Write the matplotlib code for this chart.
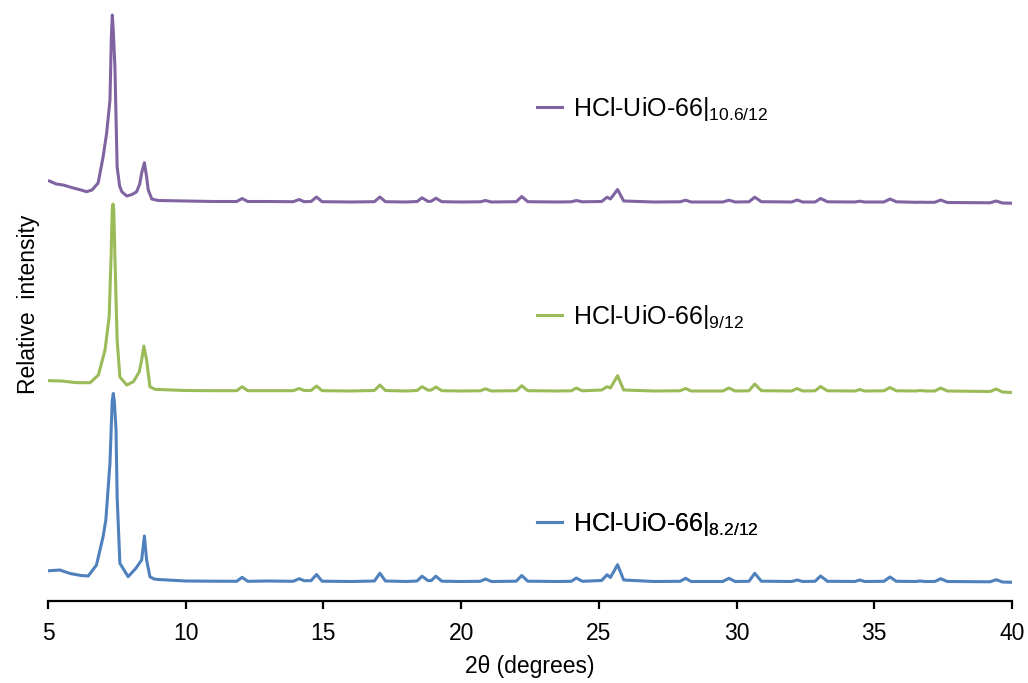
import matplotlib
matplotlib.use("Agg")
import matplotlib.pyplot as plt

plt.rcParams['font.family'] = ['Liberation Sans', 'DejaVu Sans']
plt.rcParams['mathtext.fontset'] = 'custom'
plt.rcParams['mathtext.rm'] = 'Liberation Sans'
plt.rcParams['mathtext.default'] = 'regular'

# 2theta grid shared by all three patterns above ~9 degrees
tail_x = [9.0, 10.0, 11.0, 11.85, 12.05, 12.25, 13.0, 13.9, 14.12, 14.3,
          14.55, 14.75, 14.95, 16.0, 16.85, 17.05, 17.25, 18.0, 18.4, 18.58,
          18.8, 18.92, 19.08, 19.3, 20.0, 20.7, 20.88, 21.1, 22.0, 22.2,
          22.42, 23.5, 24.0, 24.18, 24.4, 25.1, 25.3, 25.42, 25.68, 25.9,
          27.0, 27.95, 28.15, 28.35, 29.5, 29.72, 29.95, 30.45, 30.66, 30.9,
          32.0, 32.2, 32.4, 32.85, 33.05, 33.3, 34.3, 34.47, 34.65, 35.35,
          35.57, 35.8, 36.5, 36.66, 36.85, 37.2, 37.41, 37.65, 39.2, 39.43,
          39.65, 40.0]

purple_tail = [1.5, 1.0, 0.5, 0.5, 3.5, 0.5, 0.5, 0.3, 2.5, 0.3,
               0.5, 5.0, 0.3, 0.0, 0.3, 5.0, 0.3, 0.0, 0.5, 4.2,
               0.5, 0.8, 3.8, 0.3, 0.0, 0.2, 1.5, 0.0, 0.3, 5.5,
               0.3, 0.0, 0.2, 1.5, 0.2, 0.5, 4.8, 3.0, 12.5, 1.0,
               0.0, 0.2, 1.8, 0.0, 0.0, 1.8, 0.0, 0.2, 4.8, 0.3,
               0.0, 2.0, 0.0, 0.0, 3.5, 0.2, 0.0, 0.8, 0.0, 0.0,
               3.0, 0.2, -0.3, -0.2, -0.3, -0.3, 2.0, -0.5, -0.8, 1.0,
               -1.0, -1.2]
green_tail = [1.5, 0.5, 0.3, 0.3, 4.3, 0.3, 0.3, 0.3, 2.5, 0.5,
              0.5, 5.0, 0.3, 0.0, 0.5, 6.0, 0.5, 0.0, 0.5, 4.3,
              0.8, 1.0, 4.0, 0.3, 0.0, 0.2, 2.2, 0.0, 0.3, 5.3,
              0.3, 0.0, 0.2, 3.0, 0.2, 1.0, 4.3, 3.0, 15.3, 1.0,
              0.0, 0.2, 2.5, 0.0, 0.0, 3.0, 0.0, 0.2, 7.0, 0.3,
              0.0, 2.5, 0.0, 0.2, 4.5, 0.2, 0.0, 1.5, 0.0, 0.2,
              3.5, 0.2, 0.0, 0.5, 0.0, 0.0, 3.0, 0.0, -0.5, 2.0,
              -1.0, -1.5]
blue_tail = [2.0, 0.5, 0.3, 0.2, 4.2, 0.2, 0.5, 0.2, 2.8, 0.8,
             0.8, 7.0, 0.3, 0.0, 0.5, 8.3, 0.5, 0.0, 0.5, 5.3,
             0.8, 1.0, 5.3, 0.3, 0.0, 0.2, 2.5, 0.0, 0.3, 6.0,
             0.3, 0.0, 0.2, 3.5, 0.2, 1.0, 6.8, 4.0, 16.8, 1.5,
             0.0, 0.2, 3.2, 0.0, 0.0, 3.2, 0.0, 0.2, 8.2, 0.3,
             0.0, 1.5, 0.0, 0.2, 5.5, 0.2, 0.0, 1.5, 0.0, 0.2,
             4.5, 0.2, 0.0, 0.5, 0.0, 0.0, 2.8, 0.0, -0.3, 1.8,
             -0.5, -0.8]

# low-angle part (main 111 / 200 reflections), read per pattern
purple_head_x = [5.05, 5.3, 5.55, 5.92, 6.2, 6.4, 6.6, 6.82, 7.0, 7.13,
                 7.25, 7.30, 7.335, 7.37, 7.43, 7.51, 7.6, 7.68, 7.86, 8.05,
                 8.22, 8.33, 8.40, 8.50, 8.58, 8.64, 8.77]
purple_head_y = [21, 18, 17, 14, 12, 10.3, 12, 19, 45, 69,
                 102, 165, 187, 172, 135, 35, 16, 10.3, 6, 7.5,
                 10.3, 18, 29, 39.3, 25, 12, 3]
green_head_x = [5.05, 5.5, 6.04, 6.53, 6.83, 7.07, 7.22, 7.29, 7.33, 7.36,
                7.39, 7.43, 7.51, 7.61, 7.86, 8.10, 8.31, 8.40, 8.48, 8.58,
                8.70, 8.88]
green_head_y = [10.3, 10, 8.3, 8.3, 16, 41, 74, 134, 180, 187,
                180, 134, 51, 14, 6, 9.3, 19, 31, 45, 31,
                4.3, 1.7]
blue_head_x = [5.05, 5.43, 5.8, 6.2, 6.46, 6.76, 7.0, 7.1, 7.25, 7.33,
               7.37, 7.41, 7.47, 7.51, 7.61, 7.91, 8.19, 8.40, 8.50, 8.58,
               8.70, 8.85]
blue_head_y = [10.8, 11.5, 8, 6, 5.5, 16.5, 44.8, 61.5, 118.5, 180,
               188, 180, 151.5, 84.8, 18.2, 4.8, 13.2, 21.5, 45.5, 21.5,
               4.8, 2.5]

labels = ['HCl-UiO-66|$_{10.6/12}$', 'HCl-UiO-66|$_{9/12}$', 'HCl-UiO-66|$_{8.2/12}$']
colors = ['#8064A2', '#9BBB59', '#4F81BD']
offsets = [399, 210, 19.5]

series = [
    (purple_head_x + tail_x, purple_head_y + purple_tail),
    (green_head_x + tail_x, green_head_y + green_tail),
    (blue_head_x + tail_x, blue_head_y + blue_tail),
]

fig = plt.figure(figsize=(10.28, 6.83), dpi=100)
ax = fig.add_axes([48/1028, (683-601)/683, (1012-48)/1028, (601-8)/683])

legend_y = [109, 317, 524]
for (x, y), c, off, lab, ly in zip(series, colors, offsets, labels, legend_y):
    line, = ax.plot(x, [v + off for v in y], color=c, lw=2.2, solid_joinstyle='round')
    leg = ax.legend([line], [lab], loc='center left', frameon=False,
                    bbox_to_anchor=(537/1028, 1 - ly/683), bbox_transform=fig.transFigure,
                    fontsize=18, handlelength=1.0, handletextpad=0.45,
                    borderpad=0, borderaxespad=0)
    ax.add_artist(leg)

ax.set_xlim(5, 40)
ax.set_ylim(0, 593)
ax.set_xticks([5, 10, 15, 20, 25, 30, 35, 40])
ax.set_yticks([])
for s in ['top', 'right', 'left']:
    ax.spines[s].set_visible(False)
ax.spines['bottom'].set_linewidth(1.6)
ax.tick_params(axis='x', direction='out', length=6, width=1.6, pad=9, labelsize=16.5)
ax.set_xlabel('2θ (degrees)', fontsize=16.5, labelpad=7)
ax.set_ylabel('Relative  intensity', fontsize=16.5, labelpad=6)

fig.savefig('out.png', dpi=100)
